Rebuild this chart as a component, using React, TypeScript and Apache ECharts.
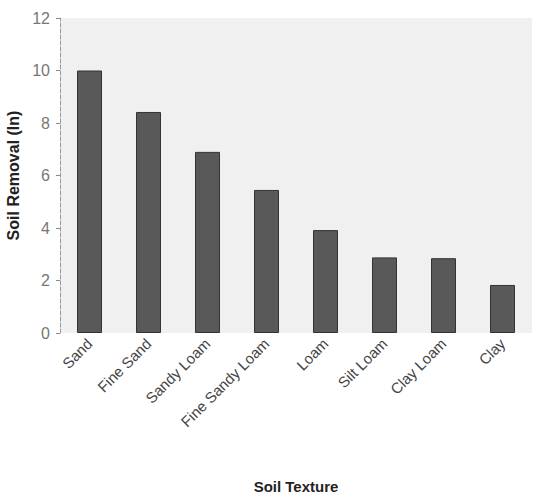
import React, { useEffect, useRef } from "react";
import * as echarts from "echarts";

const categories = ["Sand", "Fine Sand", "Sandy Loam", "Fine Sandy Loam", "Loam", "Silt Loam", "Clay Loam", "Clay"];
const soilRemoval = [10, 8.42, 6.9, 5.45, 3.92, 2.88, 2.85, 1.83];
const yTicks = { min: 0, max: 12, interval: 2 };

export default function App() {
  const ref = useRef<HTMLDivElement>(null);
  useEffect(() => {
    if (!ref.current) return;
    const chart = echarts.init(ref.current, undefined, { renderer: "svg" });
    chart.setOption({
      animation: false,
      backgroundColor: "#ffffff",
      textStyle: { fontFamily: "Liberation Sans" },
      grid: {
        left: 60,
        right: 2,
        top: 18,
        bottom: 165,
        outerBoundsMode: "none",
        containLabel: false,
        show: true,
        backgroundColor: "#f0f0f0",
        borderWidth: 0,
      },
      xAxis: {
        type: "category",
        data: categories,
        name: "Soil Texture",
        nameLocation: "middle",
        nameGap: 146,
        nameTextStyle: { fontSize: 15, fontWeight: "bold", color: "#222" },
        axisLine: { show: false },
        axisTick: { show: false },
        axisLabel: { rotate: 45, fontSize: 15, color: "#444", margin: 8, interval: 0 },
      },
      yAxis: {
        type: "value",
        min: yTicks.min,
        max: yTicks.max,
        interval: yTicks.interval,
        name: "Soil Removal (In)",
        nameLocation: "middle",
        nameGap: 38,
        nameTextStyle: { fontSize: 16, fontWeight: "bold", color: "#222" },
        axisLine: { show: true, lineStyle: { color: "#999", type: "dashed", width: 1 } },
        axisTick: { show: true, length: 4, lineStyle: { color: "#888" } },
        axisLabel: { fontSize: 16, color: "#777", margin: 10 },
        splitLine: { show: false },
      },
      series: [
        {
          type: "bar",
          data: soilRemoval,
          barWidth: 25,
          itemStyle: { color: "#595959", borderColor: "#333", borderWidth: 1 },
        },
      ],
    });
    return () => chart.dispose();
  }, []);
  return <div ref={ref} style={{ position: "fixed", left: 0, top: 0, width: 534, height: 498 }} />;
}
